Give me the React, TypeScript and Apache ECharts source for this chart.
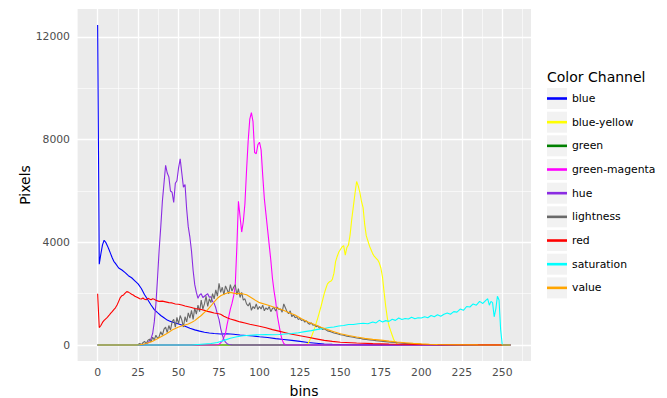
import React, { useEffect, useRef } from "react";
import * as echarts from "echarts";

// ---- categories / tick labels ----
const channelNames = ["blue", "blue-yellow", "green", "green-magenta", "hue", "lightness", "red", "saturation", "value"];
const channelColors = ["#0000FF", "#FFFF00", "#008000", "#FF00FF", "#8A2BE2", "#696969", "#FF0000", "#00FFFF", "#FFA500"];
const xTickValues = [0, 25, 50, 75, 100, 125, 150, 175, 200, 225, 250];
const xMinorValues = [-12.5, 12.5, 37.5, 62.5, 87.5, 112.5, 137.5, 162.5, 187.5, 212.5, 237.5, 262.5];
const yTickValues = [0, 4000, 8000, 12000];
const yMinorValues = [2000, 6000, 10000];

// ---- series values: [bin, pixels] ----
const blueData = [[0,12466],[1,3150],[2,3550],[3,3900],[4,4080],[5,4000],[6,3870],[7,3720],[8,3560],[9,3400],[10,3260],[11,3180],[13,3000],[15,2920],[17,2820],[19,2700],[21,2620],[23,2500],[25,2380],[27,2200],[29,1960],[31,1760],[33,1560],[35,1380],[37,1260],[39,1150],[41,1060],[43,970],[45,920],[47,880],[49,840],[51,800],[54,730],[57,650],[60,590],[63,540],[66,500],[69,470],[72,450],[76,430],[80,440],[84,420],[88,390],[92,370],[96,350],[100,320],[105,290],[110,250],[115,215],[120,180],[125,140],[130,100],[135,70],[140,42],[145,28],[150,18],[160,8],[170,4],[185,1],[200,0],[255,0]];

const blueYellowData = [[0,0],[128,0],[130,60],[132,300],[134,650],[136,1050],[138,1500],[140,2000],[141,2200],[142,2380],[143,2450],[144,2480],[145,2560],[146,2800],[147,3250],[148,3450],[149,3620],[150,3720],[151,3820],[152,3870],[153,3500],[154,3800],[155,3900],[156,4300],[157,4900],[158,5400],[159,5900],[160,6370],[161,6200],[162,5950],[163,5600],[164,5350],[165,4700],[166,4250],[167,4050],[168,3850],[169,3700],[170,3550],[171,3450],[172,3380],[173,3320],[174,3200],[175,3000],[176,2650],[177,2050],[178,1500],[179,1050],[180,750],[181,560],[182,380],[183,200],[184,100],[185,40],[186,10],[187,0],[255,0]];

const greenData = [[0,0],[255,0]];

const greenMagentaData = [[0,0],[73,0],[75,20],[77,150],[78,300],[79,450],[80,800],[81,1100],[82,1400],[83,1620],[84,1900],[85,2300],[86,3800],[87,5600],[88,5000],[89,4400],[90,4800],[91,5500],[92,6800],[93,7950],[94,8800],[95,9050],[96,8700],[97,7500],[98,7450],[99,7800],[100,7900],[101,7600],[102,6600],[103,5700],[104,5100],[105,4500],[106,3900],[107,3300],[108,2600],[109,2100],[110,1700],[111,1150],[112,800],[113,450],[114,200],[115,60],[116,10],[117,0],[255,0]];

const hueData = [[0,0],[28,0],[29,20],[31,80],[33,250],[34,450],[35,900],[36,1600],[37,2600],[38,3700],[39,4600],[40,5600],[41,6300],[42,7000],[43,6700],[44,6550],[45,6000],[46,5950],[47,5550],[48,6300],[49,6400],[50,6900],[51,7250],[52,6700],[53,6150],[54,6250],[55,5300],[56,4600],[57,4200],[58,3650],[59,2900],[60,2350],[61,2050],[62,1820],[63,1950],[64,2000],[65,1850],[66,1900],[67,1950],[68,2000],[69,1860],[70,1880],[71,1700],[72,1620],[73,1450],[74,1200],[75,1000],[76,650],[77,400],[78,220],[79,110],[80,50],[81,20],[83,5],[85,0],[255,0]];

const lightnessData = [[0,0],[24,0],[25,20],[26,60],[27,10],[28,90],[29,140],[30,50],[31,180],[32,230],[33,120],[34,300],[35,200],[36,380],[37,260],[38,330],[39,520],[40,380],[41,620],[42,700],[43,480],[44,760],[45,580],[46,900],[47,1000],[48,700],[49,1080],[50,820],[51,1150],[52,980],[53,700],[54,1100],[55,900],[56,1250],[57,1050],[58,1350],[59,1000],[60,1450],[61,1200],[62,1550],[63,1300],[64,1750],[65,1400],[66,1600],[67,1900],[68,1500],[69,1800],[70,1650],[71,2000],[72,1800],[73,2150],[74,1900],[75,2400],[76,2050],[77,2250],[78,1950],[79,2300],[80,2150],[81,2000],[82,2350],[83,2100],[84,2250],[85,2350],[86,1950],[87,2200],[88,1850],[89,2050],[90,1750],[91,1800],[92,1600],[93,1520],[94,1650],[95,1350],[96,1500],[97,1420],[98,1600],[99,1380],[100,1500],[101,1400],[102,1550],[103,1330],[104,1450],[105,1380],[106,1500],[107,1300],[108,1420],[109,1460],[110,1320],[111,1480],[112,1380],[113,1400],[114,1280],[115,1600],[116,1450],[117,1300],[118,1220],[119,1330],[120,1100],[121,1180],[122,1060],[123,1100],[124,990],[125,1040],[126,950],[127,990],[128,890],[129,940],[130,850],[131,810],[132,860],[133,770],[134,790],[135,710],[136,750],[137,650],[138,690],[139,600],[140,630],[142,550],[144,520],[146,470],[148,440],[150,400],[152,380],[154,340],[156,320],[158,300],[160,270],[162,260],[164,230],[166,215],[168,200],[170,185],[172,170],[175,150],[178,130],[181,110],[184,95],[187,80],[190,65],[195,45],[200,32],[205,22],[210,15],[215,10],[220,6],[230,3],[240,1],[255,0]];

const redData = [[0,2000],[1,680],[2,760],[3,880],[4,960],[5,1020],[6,1080],[7,1150],[8,1230],[9,1300],[10,1380],[11,1450],[12,1560],[13,1700],[14,1850],[15,1920],[16,1950],[17,2020],[18,2080],[19,2060],[20,2020],[21,1980],[22,1950],[23,1900],[24,1870],[25,1840],[26,1800],[27,1790],[28,1830],[29,1780],[30,1760],[31,1820],[32,1790],[33,1760],[34,1800],[35,1780],[36,1740],[37,1720],[38,1700],[40,1710],[42,1680],[44,1650],[46,1640],[48,1600],[50,1590],[52,1560],[54,1520],[56,1490],[58,1460],[60,1420],[62,1400],[64,1380],[66,1350],[68,1310],[70,1280],[72,1250],[74,1230],[76,1200],[78,1120],[80,1060],[82,1010],[85,960],[88,900],[91,860],[94,810],[97,770],[100,730],[104,670],[108,600],[112,540],[116,480],[120,420],[125,360],[130,300],[135,240],[140,180],[145,140],[150,110],[160,80],[170,55],[180,40],[190,30],[200,20],[215,12],[230,8],[245,4],[255,0]];

const saturationData = [[0,0],[58,0],[60,10],[62,20],[64,30],[66,40],[68,50],[70,60],[72,80],[74,100],[76,140],[78,180],[80,220],[82,260],[84,290],[86,320],[88,340],[90,360],[92,370],[94,380],[96,390],[98,395],[100,400],[104,405],[108,400],[112,410],[116,430],[120,450],[124,480],[128,520],[132,560],[136,610],[140,640],[143,680],[146,700],[149,740],[152,760],[155,800],[158,800],[161,830],[164,850],[167,830],[170,900],[172,860],[174,960],[176,900],[178,950],[180,920],[182,1000],[184,960],[186,1050],[188,990],[190,1030],[192,1010],[194,1080],[196,1020],[198,1060],[200,1050],[202,1100],[204,1060],[206,1150],[208,1100],[210,1180],[212,1120],[214,1200],[216,1250],[218,1200],[220,1300],[222,1280],[224,1400],[226,1350],[228,1500],[230,1480],[232,1600],[234,1550],[236,1700],[238,1620],[240,1750],[241,1800],[242,1550],[243,1700],[244,1650],[245,1100],[246,1400],[247,1900],[248,1750],[249,600],[250,0],[255,0]];

const valueData = [[0,0],[24,0],[26,10],[28,30],[30,60],[32,100],[34,150],[36,210],[38,280],[40,350],[42,420],[44,500],[46,580],[48,640],[50,700],[52,740],[54,780],[56,820],[58,880],[60,950],[62,1050],[64,1150],[66,1270],[68,1380],[70,1520],[72,1680],[74,1820],[76,1920],[78,1980],[80,2030],[82,2050],[84,2020],[86,2000],[88,2010],[90,1990],[92,1960],[94,1880],[96,1800],[98,1720],[100,1650],[105,1560],[110,1450],[114,1370],[118,1270],[122,1170],[126,1020],[130,900],[134,800],[138,690],[142,600],[146,520],[150,440],[155,370],[160,310],[165,260],[170,220],[175,190],[180,150],[185,115],[190,90],[195,65],[200,45],[205,30],[210,20],[220,10],[235,4],[250,0],[255,0]];

const seriesData = [blueData, blueYellowData, greenData, greenMagentaData, hueData, lightnessData, redData, saturationData, valueData];

const FONT = "DejaVu Sans";

export default function App() {
  const ref = useRef<HTMLDivElement>(null);
  useEffect(() => {
    document.body.style.margin = "0";
    if (!ref.current) return;
    const chart = echarts.init(ref.current, null, { renderer: "svg" });

    const legendTop = 88;
    const rowH = 21;
    const rowGap = 2.67;
    const keyBoxes = channelNames.map((_, i) => ({
      type: "rect",
      left: 547,
      top: legendTop + i * (rowH + rowGap),
      shape: { width: 20, height: rowH },
      style: { fill: "#F2F2F2" },
      z: 0,
      silent: true,
    }));

    const gridLines = [
      ...xMinorValues.map((v) => ({ xAxis: v, lineStyle: { color: "#FFFFFF", width: 0.6, type: "solid" } })),
      ...yMinorValues.map((v) => ({ yAxis: v, lineStyle: { color: "#FFFFFF", width: 0.6, type: "solid" } })),
      ...xTickValues.map((v) => ({ xAxis: v, lineStyle: { color: "#FFFFFF", width: 1.3, type: "solid" } })),
      ...yTickValues.map((v) => ({ yAxis: v, lineStyle: { color: "#FFFFFF", width: 1.3, type: "solid" } })),
    ];

    const option: any = {
      animation: false,
      backgroundColor: "#FFFFFF",
      textStyle: { fontFamily: FONT },
      title: {
        text: "Color Channel",
        left: 547,
        top: 70,
        textStyle: { fontFamily: FONT, fontSize: 14, fontWeight: "normal", color: "#000000" },
        padding: 0,
      },
      legend: {
        orient: "vertical",
        left: 547,
        top: legendTop,
        padding: 0,
        icon: "rect",
        itemWidth: 20,
        itemHeight: 2.6,
        itemGap: rowGap,
        data: channelNames,
        textStyle: { fontFamily: FONT, fontSize: 10.8, color: "#000000", lineHeight: rowH, padding: 0 },
        selectedMode: false,
      },
      graphic: keyBoxes,
      grid: {
        left: 77,
        right: 136,
        top: 9,
        bottom: 37,
        show: true,
        backgroundColor: "#EBEBEB",
        borderWidth: 0,
        containLabel: false,
        outerBoundsMode: "none",
      },
      xAxis: {
        type: "value",
        min: -12.75,
        max: 267.75,
        name: "bins",
        nameLocation: "middle",
        nameGap: 23,
        nameMoveOverlap: false,
        nameTextStyle: { fontFamily: FONT, fontSize: 14, color: "#000000" },
        axisLine: { show: false },
        axisTick: { show: true, length: 3.5, lineStyle: { color: "#333333", width: 1 }, customValues: xTickValues },
        axisLabel: { customValues: xTickValues, fontFamily: FONT, fontSize: 10.8, color: "#4D4D4D", margin: 6, formatter: (v: number) => String(v) },
        splitLine: { show: false },
      },
      yAxis: {
        type: "value",
        min: -623,
        max: 13089,
        name: "Pixels",
        nameLocation: "middle",
        nameGap: 45,
        nameMoveOverlap: false,
        nameTextStyle: { fontFamily: FONT, fontSize: 14, color: "#000000" },
        axisLine: { show: false },
        axisTick: { show: true, length: 3.5, lineStyle: { color: "#333333", width: 1 }, customValues: yTickValues },
        axisLabel: { customValues: yTickValues, fontFamily: FONT, fontSize: 10.8, color: "#4D4D4D", margin: 7, formatter: (v: number) => String(v) },
        splitLine: { show: false },
      },
      series: [
        {
          type: "line",
          name: "_grid",
          data: [[0, 0]],
          symbol: "none",
          lineStyle: { opacity: 0 },
          silent: true,
          z: 1,
          markLine: {
            silent: true,
            symbol: ["none", "none"],
            z: 1,
            label: { show: false },
            emphasis: { disabled: true },
            data: gridLines,
          },
        },
        ...channelNames.map((name, i) => ({
          type: "line",
          name,
          data: seriesData[i],
          symbol: "none",
          showSymbol: false,
          color: channelColors[i],
          lineStyle: { color: channelColors[i], width: 1.1 },
          emphasis: { disabled: true },
          z: 2,
        })),
      ],
    };
    chart.setOption(option);
    return () => chart.dispose();
  }, []);
  return <div ref={ref} style={{ width: 667, height: 398 }} />;
}
